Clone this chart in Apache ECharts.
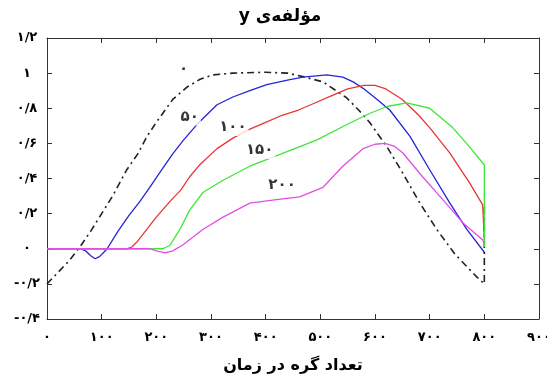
<!DOCTYPE html>
<html>
<head>
<meta charset="utf-8">
<script src="https://cdn.jsdelivr.net/npm/echarts@6/dist/echarts.min.js"></script>
<style>html,body{margin:0;padding:0;background:#fff}#c{width:547px;height:378px}</style>
</head>
<body>
<div id="c"></div>
<script>
// ---- data ----
const blackX = [0, 20, 40, 60, 80, 100, 120, 146, 166, 183, 200, 230, 256, 280, 303, 340, 400, 440, 468, 505, 548, 570, 590, 622, 651, 682, 713, 746, 786, 800, 800];
const blackY = [-0.2, -0.135, -0.07, 0.01, 0.1, 0.2, 0.3, 0.45, 0.54, 0.64, 0.72, 0.85, 0.92, 0.965, 0.99, 1.0, 1.005, 1.0, 0.98, 0.95, 0.86, 0.79, 0.72, 0.58, 0.43, 0.26, 0.11, -0.03, -0.16, -0.2, 0.25];

const blueX = [0, 60, 70, 80, 88, 96, 104, 110, 130, 150, 170, 188, 210, 230, 250, 275, 311, 340, 371, 402, 440, 468, 512, 541, 560, 580, 600, 627, 664, 700, 737, 768, 800];
const blueY = [0, 0, -0.01, -0.04, -0.057, -0.045, -0.02, 0, 0.1, 0.19, 0.27, 0.35, 0.45, 0.54, 0.62, 0.71, 0.82, 0.864, 0.9, 0.935, 0.96, 0.977, 0.99, 0.977, 0.95, 0.91, 0.86, 0.79, 0.64, 0.45, 0.26, 0.11, -0.02];

const redX = [0, 146, 155, 165, 180, 200, 225, 245, 261, 280, 311, 340, 370, 400, 430, 460, 490, 520, 550, 580, 600, 620, 650, 680, 700, 737, 773, 797, 800];
const redY = [0, 0, 0.01, 0.04, 0.1, 0.18, 0.27, 0.335, 0.41, 0.48, 0.57, 0.63, 0.68, 0.72, 0.76, 0.79, 0.83, 0.87, 0.91, 0.93, 0.93, 0.91, 0.85, 0.76, 0.69, 0.545, 0.375, 0.25, 0.05];

const greenX = [0, 212, 225, 243, 261, 285, 322, 371, 432, 494, 554, 590, 622, 658, 700, 742, 773, 800, 800];
const greenY = [0, 0, 0.02, 0.11, 0.22, 0.32, 0.39, 0.47, 0.545, 0.62, 0.716, 0.77, 0.81, 0.83, 0.80, 0.69, 0.58, 0.477, 0.01];

const magentaX = [0, 188, 200, 216, 230, 249, 285, 322, 371, 420, 462, 505, 541, 578, 600, 618, 635, 651, 687, 724, 760, 797, 800];
const magentaY = [0, 0, -0.012, -0.023, -0.012, 0.023, 0.11, 0.18, 0.26, 0.28, 0.295, 0.35, 0.47, 0.57, 0.595, 0.60, 0.585, 0.545, 0.41, 0.28, 0.15, 0.05, 0.03];

const curveLabelX = [250, 261, 340, 389, 430];
const curveLabelY = [1.023, 0.75, 0.69, 0.56, 0.365];
const curveLabelText = ['۰', '۵۰', '۱۰۰', '۱۵۰', '۲۰۰'];

const xTickLabels = ['۰', '۱۰۰', '۲۰۰', '۳۰۰', '۴۰۰', '۵۰۰', '۶۰۰', '۷۰۰', '۸۰۰', '۹۰۰'];
const yTickLabels = ['-۰/۴', '-۰/۲', '۰', '۰/۲', '۰/۴', '۰/۶', '۰/۸', '۱', '۱/۲'];

const titleText = '\u202Bمؤلفه\u200Cی y\u202C';
const xAxisName = 'تعداد گره در زمان';

// ---- build ----
const pairs = (xs, ys) => xs.map((x, i) => [x, ys[i]]);
const FONT = '"DejaVu Sans", sans-serif';
const axisColor = '#333';

const lineSeries = (name, xs, ys, color, type) => ({
  type: 'line', name: name, data: pairs(xs, ys), showSymbol: false, symbol: 'none',
  smooth: false, clip: false,
  lineStyle: { color: color, width: type ? 1.6 : 1.3, type: type || 'solid' },
  z: 3
});

const chart = echarts.init(document.getElementById('c'), null, { renderer: 'canvas' });
chart.setOption({
  animation: false,
  backgroundColor: '#fff',
  grid: { left: 47, right: 8, top: 38, bottom: 59, containLabel: false, outerBoundsMode: 'none' },
  graphic: [{
    type: 'text', x: 280, y: 17,
    style: { text: titleText, font: 'bold 17px ' + FONT, fill: '#000', align: 'center', verticalAlign: 'middle' }
  }],
  xAxis: [{
    type: 'value', min: 0, max: 900, interval: 100, position: 'bottom',
    axisLine: { show: true, onZero: false, lineStyle: { color: axisColor, width: 1 } },
    axisTick: { show: true, inside: true, length: 5, lineStyle: { color: axisColor } },
    splitLine: { show: false },
    axisLabel: {
      margin: 12, color: '#000', fontFamily: FONT, fontWeight: 'bold', fontSize: 13,
      formatter: v => xTickLabels[Math.round(v / 100)]
    },
    name: xAxisName, nameLocation: 'middle', nameGap: 39,
    nameTextStyle: { color: '#000', fontFamily: FONT, fontWeight: 'bold', fontSize: 16 }
  }, {
    type: 'value', min: 0, max: 900, interval: 100, position: 'top',
    axisLine: { show: true, onZero: false, lineStyle: { color: axisColor, width: 1 } },
    axisTick: { show: true, inside: true, length: 5, lineStyle: { color: axisColor } },
    splitLine: { show: false }, axisLabel: { show: false }
  }],
  yAxis: [{
    type: 'value', min: -0.4, max: 1.2, interval: 0.2, position: 'left',
    axisLine: { show: true, onZero: false, lineStyle: { color: axisColor, width: 1 } },
    axisTick: { show: true, inside: true, length: 5, lineStyle: { color: axisColor } },
    splitLine: { show: false },
    axisLabel: {
      margin: 20, align: 'center', color: '#000', fontFamily: FONT, fontWeight: 'bold', fontSize: 13,
      formatter: v => yTickLabels[Math.round((v + 0.4) / 0.2)]
    }
  }, {
    type: 'value', min: -0.4, max: 1.2, interval: 0.2, position: 'right',
    axisLine: { show: true, onZero: false, lineStyle: { color: axisColor, width: 1 } },
    axisTick: { show: true, inside: true, length: 5, lineStyle: { color: axisColor } },
    splitLine: { show: false }, axisLabel: { show: false }
  }],
  series: [
    lineSeries('0', blackX, blackY, '#222', [7, 4, 2, 4]),
    lineSeries('50', blueX, blueY, '#2424dc', null),
    lineSeries('100', redX, redY, '#e83434', null),
    lineSeries('150', greenX, greenY, '#3ee63a', null),
    lineSeries('200', magentaX, magentaY, '#e24ee2', null),
    {
      type: 'scatter', data: pairs(curveLabelX, curveLabelY), symbolSize: 2,
      itemStyle: { color: 'rgba(255,255,255,0)' }, z: 10, silent: true,
      label: {
        show: true, position: 'inside', color: '#000', fontFamily: FONT, fontWeight: 'bold', fontSize: 15,
        backgroundColor: '#fff', padding: [1, 2],
        formatter: p => curveLabelText[p.dataIndex]
      }
    }
  ]
});
</script>
</body>
</html>
